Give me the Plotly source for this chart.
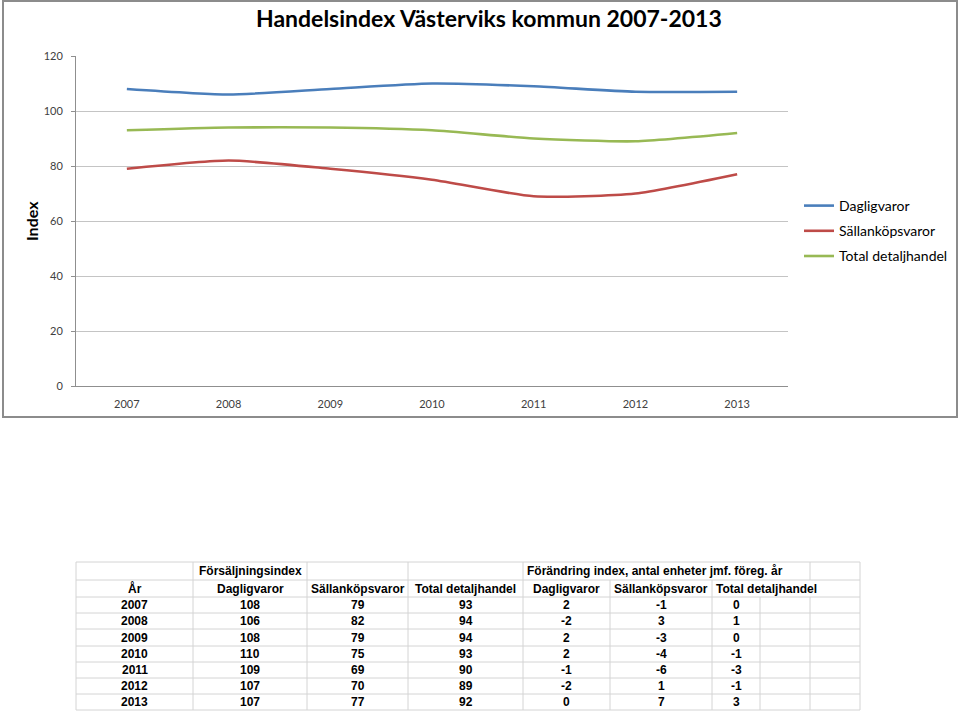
import plotly.graph_objects as go

# ---------------- data ----------------
years = ["2007", "2008", "2009", "2010", "2011", "2012", "2013"]
series_names = ["Dagligvaror", "Sällanköpsvaror", "Total detaljhandel"]
dagligvaror = [108, 106, 108, 110, 109, 107, 107]
sallankopsvaror = [79, 82, 79, 75, 69, 70, 77]
total_detaljhandel = [93, 94, 94, 93, 90, 89, 92]
chg_dagligvaror = [2, -2, 2, 2, -1, -2, 0]
chg_sallankopsvaror = [-1, 3, -3, -4, -6, 1, 7]
chg_total = [0, 1, 0, -1, -3, -1, 3]
y_ticks = [0, 20, 40, 60, 80, 100, 120]
chart_title = "Handelsindex Västerviks kommun 2007-2013"
y_title = "Index"
table_header_1 = ["", "Försäljningsindex", "", "", "Förändring index, antal enheter jmf. föreg. år", "", "", "", ""]
table_header_2 = ["År", "Dagligvaror", "Sällanköpsvaror", "Total detaljhandel",
                  "Dagligvaror", "Sällanköpsvaror", "Total detaljhandel", "", ""]

# ---------------- layout helpers ----------------
W, H = 960, 714
def px(x):
    return x / W
def py(y):
    return 1 - y / H

colors = ["#4A7EBB", "#BE4B48", "#98B954"]
series = [dagligvaror, sallankopsvaror, total_detaljhandel]

fig = go.Figure()
for i, (name, vals) in enumerate(zip(series_names, series)):
    fig.add_trace(go.Scatter(
        x=years, y=vals, name=name, mode="lines",
        line=dict(color=colors[i], width=2.6, shape="spline", smoothing=0.6),
        legendgroup=name, hoverinfo="x+y+name",
    ))

chart_font = "Lato, Open Sans, sans-serif"
table_font = "Liberation Sans, Arial, sans-serif"

fig.update_layout(
    width=W, height=H,
    margin=dict(l=0, r=0, t=0, b=0, pad=0, autoexpand=False),
    paper_bgcolor="white", plot_bgcolor="white",
    showlegend=True,
    legend=dict(
        x=px(799), y=py(190), xanchor="left", yanchor="top",
        font=dict(family=chart_font, size=14, color="#000000"),
        tracegroupgap=4, traceorder="grouped",
        bgcolor="rgba(0,0,0,0)",
    ),
    xaxis=dict(
        domain=[px(76), px(788)], anchor="y", automargin=False,
        type="category", range=[-0.5, 6.5],
        showline=True, linecolor="#8f8f8f", linewidth=1,
        showgrid=False, ticks="", ticklabelstandoff=8,
        tickfont=dict(family=chart_font, size=11, color="#404040"),
        zeroline=False,
    ),
    yaxis=dict(
        domain=[py(386), py(56)], anchor="x", automargin=False,
        range=[0, 120], tickvals=y_ticks,
        showline=True, linecolor="#8f8f8f", linewidth=1,
        showgrid=True, gridcolor="#c4c4c4", gridwidth=1,
        ticks="outside", ticklen=4, tickcolor="#8f8f8f",
        ticklabelstandoff=6,
        tickfont=dict(family=chart_font, size=11, color="#404040"),
        zeroline=False,
    ),
)

annotations = []
shapes = []

# chart border
shapes.append(dict(type="rect", xref="paper", yref="paper",
                   x0=px(3), x1=px(957), y0=py(417), y1=py(1),
                   line=dict(color="#8c8c8c", width=2), fillcolor="rgba(0,0,0,0)"))

# title and axis title
annotations.append(dict(text=f"<b>{chart_title}</b>", xref="paper", yref="paper",
                        x=px(489), y=py(18), xanchor="center", yanchor="middle",
                        showarrow=False, font=dict(family=chart_font, size=23, color="#000000")))
annotations.append(dict(text=f"<b>{y_title}</b>", xref="paper", yref="paper",
                        x=px(31), y=py(221), xanchor="center", yanchor="middle", textangle=-90,
                        showarrow=False, font=dict(family=chart_font, size=16, color="#000000")))

# ---------------- table ----------------
col_edges = [76, 193, 307, 408, 523, 610, 712, 760, 810, 860]
row_edges = [562, 580, 597, 613, 629, 646, 662, 678, 694, 710]
grid_color = "#d4d4d4"

# horizontal lines
for y in row_edges:
    shapes.append(dict(type="line", xref="paper", yref="paper",
                       x0=px(col_edges[0]), x1=px(col_edges[-1]), y0=py(y), y1=py(y),
                       line=dict(color=grid_color, width=1)))

# vertical lines (segments per row; hidden where text overflows)
hidden = {0: {5, 6, 7}, 1: {7, 8}}
for r in range(len(row_edges) - 1):
    for ci, x in enumerate(col_edges):
        if ci in hidden.get(r, set()):
            continue
        shapes.append(dict(type="line", xref="paper", yref="paper",
                           x0=px(x), x1=px(x), y0=py(row_edges[r]), y1=py(row_edges[r + 1]),
                           line=dict(color=grid_color, width=1)))

def cell_text(r, c, text, align="center"):
    yc = (row_edges[r] + row_edges[r + 1]) / 2
    if align == "center":
        x = (col_edges[c] + col_edges[c + 1]) / 2
        xa = "center"
    else:
        x = col_edges[c] + 2
        xa = "left"
    annotations.append(dict(text=f"<b>{text}</b>", xref="paper", yref="paper",
                            x=px(x), y=py(yc), xanchor=xa, yanchor="middle",
                            showarrow=False,
                            font=dict(family=table_font, size=12, color="#000000")))

# header row 1
for c, t in enumerate(table_header_1):
    if t:
        cell_text(0, c, t, align="left" if c == 4 else "center")
# header row 2
for c, t in enumerate(table_header_2):
    if t:
        cell_text(1, c, t, align="left" if c == 6 else "center")
# data rows
cols = [years, dagligvaror, sallankopsvaror, total_detaljhandel,
        chg_dagligvaror, chg_sallankopsvaror, chg_total]
for i in range(len(years)):
    for c, col in enumerate(cols):
        cell_text(2 + i, c, str(col[i]))

fig.update_layout(annotations=annotations, shapes=shapes)
fig.write_html("out.html")
